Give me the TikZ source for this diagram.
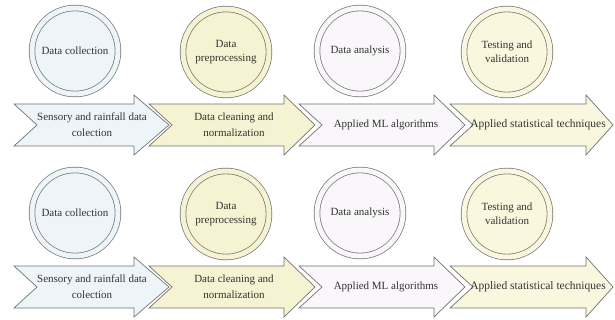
\documentclass[tikz,border=0pt]{standalone}
\usepackage{fontspec}
\setmainfont{Liberation Serif}

\definecolor{edge}{HTML}{727272}
\definecolor{ink}{HTML}{333333}
\definecolor{collectfill}{HTML}{EEF5F9}
\definecolor{prepfill}{HTML}{F5F3D1}
\definecolor{analysisfill}{HTML}{F9F7F9}
\definecolor{testfill}{HTML}{FAF7DF}

% tail x, head x, tip x, centre y, fill
\newcommand{\flowarrow}[5]{%
  \draw[arrowline, fill=#5] (#1,#4-21) -- (#2,#4-21) -- (#2,#4-30) -- (#3,#4)
    -- (#2,#4+30) -- (#2,#4+21) -- (#1,#4+21) -- ({#1+23},#4) -- cycle;}

\begin{document}
\begin{tikzpicture}[x=1pt, y=-1pt,
    ring/.style={circle, draw=edge, line width=0.7pt, double distance=5pt,
      minimum size=86pt, inner sep=0pt, align=center, text=ink,
      font=\fontsize{11}{14}\selectfont},
    arrowline/.style={draw=edge, line width=0.7pt, line join=miter},
    steptext/.style={align=center, text=ink, font=\fontsize{11}{16}\selectfont}]
    \useasboundingbox (0,0) rectangle (615,320);
    \foreach \r/\y in {1/0, 2/162} {
        \flowarrow{14}{134}{169}{125+\y}{collectfill}
        \flowarrow{149}{284}{315}{125+\y}{prepfill}
        \flowarrow{299}{434}{465}{125+\y}{analysisfill}
        \flowarrow{450}{586}{613}{125+\y}{testfill}
        \path (92,125+\y) node[steptext](a1-\r){Sensory and rainfall data\\colection}
            (234,125+\y) node[steptext](a2-\r){Data cleaning and\\normalization}
            (386,125+\y) node[steptext](a3-\r){Applied ML algorithms}
            (538,125+\y) node[steptext, font=\fontsize{11.5}{16}\selectfont](a4-\r){Applied statistical techniques};
        \path (75,51+\y) node[ring, fill=collectfill, double=collectfill](c1-\r){Data collection}
            (226,52+\y) node[ring, fill=prepfill, double=prepfill](c2-\r){Data\\preprocessing}
            (360,51+\y) node[ring, fill=analysisfill, double=analysisfill](c3-\r){Data analysis}
            (507,52+\y) node[ring, fill=testfill, double=testfill](c4-\r){Testing and\\validation};
    }
\end{tikzpicture}
\end{document}
